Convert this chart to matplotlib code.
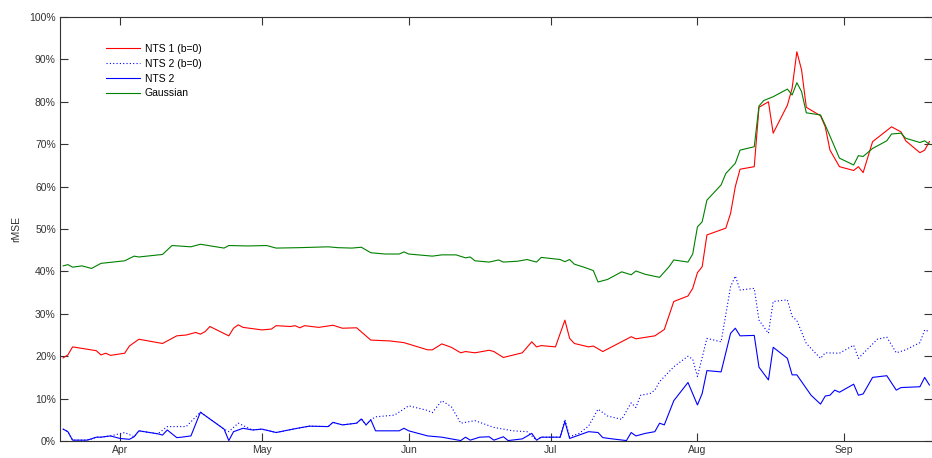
import matplotlib
matplotlib.use("Agg")
from matplotlib import pyplot as plt
import matplotlib.dates as mdates
from matplotlib.ticker import PercentFormatter, MultipleLocator
import pandas as pd

plt.rcParams['font.family'] = ['Liberation Sans', 'DejaVu Sans']

# Gaussian model
gauss_dates = ['2011-03-20', '2011-03-21', '2011-03-22', '2011-03-24', '2011-03-26', '2011-03-28',
               '2011-04-02', '2011-04-04', '2011-04-05', '2011-04-10', '2011-04-12', '2011-04-16',
               '2011-04-18', '2011-04-23', '2011-04-24', '2011-04-28', '2011-05-02', '2011-05-04',
               '2011-05-09', '2011-05-15', '2011-05-17', '2011-05-20', '2011-05-22', '2011-05-24',
               '2011-05-27', '2011-05-30', '2011-05-31', '2011-06-01', '2011-06-06', '2011-06-08',
               '2011-06-11', '2011-06-13', '2011-06-14', '2011-06-15', '2011-06-18', '2011-06-20',
               '2011-06-21', '2011-06-24', '2011-06-26', '2011-06-28', '2011-06-29', '2011-07-03',
               '2011-07-04', '2011-07-05', '2011-07-06', '2011-07-08', '2011-07-10', '2011-07-11',
               '2011-07-13', '2011-07-16', '2011-07-18', '2011-07-19', '2011-07-21', '2011-07-24',
               '2011-07-26', '2011-07-27', '2011-07-30', '2011-07-31', '2011-08-01', '2011-08-02',
               '2011-08-03', '2011-08-06', '2011-08-07', '2011-08-09', '2011-08-10', '2011-08-13',
               '2011-08-14', '2011-08-15', '2011-08-17', '2011-08-20', '2011-08-21', '2011-08-22',
               '2011-08-23', '2011-08-24', '2011-08-27', '2011-08-28', '2011-08-31', '2011-09-03',
               '2011-09-04', '2011-09-05', '2011-09-07', '2011-09-10', '2011-09-11', '2011-09-13',
               '2011-09-14', '2011-09-17', '2011-09-18', '2011-09-19']
gauss_vals = [41.3, 41.6, 41.0, 41.3, 40.7, 41.9,
              42.5, 43.6, 43.4, 44.0, 46.1, 45.8,
              46.4, 45.5, 46.1, 46.0, 46.1, 45.5,
              45.6, 45.8, 45.6, 45.5, 45.7, 44.4,
              44.1, 44.1, 44.6, 44.1, 43.6, 43.9,
              43.9, 43.2, 43.4, 42.5, 42.2, 42.7,
              42.2, 42.4, 42.8, 42.2, 43.3, 42.8,
              42.3, 42.8, 41.7, 41.0, 40.2, 37.5,
              38.1, 39.9, 39.2, 40.1, 39.3, 38.6,
              41.1, 42.7, 42.2, 44.1, 50.5, 51.7,
              56.8, 60.4, 63.1, 65.5, 68.6, 69.4,
              79.0, 80.3, 81.2, 83.0, 81.6, 84.5,
              82.4, 77.4, 76.9, 74.5, 66.7, 65.1,
              67.3, 67.1, 69.0, 70.8, 72.4, 72.6,
              71.4, 70.4, 70.8, 70.0]

# NTS 1 (b=0)
nts1_dates = ['2011-03-20', '2011-03-21', '2011-03-22', '2011-03-27', '2011-03-28', '2011-03-29',
              '2011-03-30', '2011-04-02', '2011-04-03', '2011-04-05', '2011-04-10', '2011-04-11',
              '2011-04-13', '2011-04-15', '2011-04-17', '2011-04-18', '2011-04-19', '2011-04-20',
              '2011-04-24', '2011-04-25', '2011-04-26', '2011-04-27', '2011-05-01', '2011-05-03',
              '2011-05-04', '2011-05-07', '2011-05-08', '2011-05-09', '2011-05-10', '2011-05-13',
              '2011-05-16', '2011-05-18', '2011-05-21', '2011-05-24', '2011-05-28', '2011-05-31',
              '2011-06-05', '2011-06-06', '2011-06-08', '2011-06-10', '2011-06-12', '2011-06-13',
              '2011-06-15', '2011-06-18', '2011-06-19', '2011-06-21', '2011-06-25', '2011-06-27',
              '2011-06-28', '2011-06-29', '2011-07-02', '2011-07-04', '2011-07-05', '2011-07-06',
              '2011-07-09', '2011-07-10', '2011-07-12', '2011-07-17', '2011-07-18', '2011-07-19',
              '2011-07-23', '2011-07-25', '2011-07-27', '2011-07-30', '2011-07-31', '2011-08-01',
              '2011-08-02', '2011-08-03', '2011-08-07', '2011-08-08', '2011-08-09', '2011-08-10',
              '2011-08-13', '2011-08-14', '2011-08-16', '2011-08-17', '2011-08-20', '2011-08-21',
              '2011-08-22', '2011-08-23', '2011-08-24', '2011-08-27', '2011-08-28', '2011-08-29',
              '2011-08-31', '2011-09-03', '2011-09-04', '2011-09-05', '2011-09-07', '2011-09-11',
              '2011-09-13', '2011-09-14', '2011-09-17', '2011-09-18', '2011-09-19']
nts1_vals = [19.6, 20.3, 22.2, 21.3, 20.3, 20.7,
             20.2, 20.7, 22.4, 24.0, 23.0, 23.6,
             24.8, 25.0, 25.6, 25.2, 25.8, 27.0,
             24.8, 26.6, 27.4, 26.8, 26.2, 26.4,
             27.2, 27.0, 27.2, 26.7, 27.2, 26.8,
             27.3, 26.6, 26.7, 23.8, 23.6, 23.2,
             21.5, 21.5, 22.9, 22.1, 20.8, 21.1,
             20.8, 21.4, 21.1, 19.7, 20.8, 23.4,
             22.2, 22.5, 22.2, 28.5, 24.2, 23.0,
             22.2, 22.4, 21.1, 24.0, 24.6, 24.1,
             24.8, 26.3, 32.9, 34.2, 36.0, 39.7,
             41.1, 48.6, 50.2, 53.7, 60.0, 64.1,
             64.7, 78.7, 80.0, 72.6, 79.2, 83.2,
             91.8, 87.5, 78.7, 76.7, 74.1, 68.6,
             64.7, 63.8, 64.7, 63.3, 70.6, 74.1,
             72.9, 70.8, 68.0, 68.6, 70.6]

# NTS 2 (b=0)
nts2b_dates = ['2011-03-20', '2011-03-21', '2011-03-22', '2011-03-25', '2011-03-26', '2011-03-27',
               '2011-03-28', '2011-03-30', '2011-04-02', '2011-04-04', '2011-04-05', '2011-04-09',
               '2011-04-11', '2011-04-15', '2011-04-18', '2011-04-23', '2011-04-24', '2011-04-26',
               '2011-04-29', '2011-05-01', '2011-05-04', '2011-05-08', '2011-05-11', '2011-05-15',
               '2011-05-16', '2011-05-18', '2011-05-21', '2011-05-22', '2011-05-23', '2011-05-24',
               '2011-05-25', '2011-05-29', '2011-06-01', '2011-06-05', '2011-06-06', '2011-06-08',
               '2011-06-10', '2011-06-12', '2011-06-15', '2011-06-19', '2011-06-21', '2011-06-23',
               '2011-06-26', '2011-06-28', '2011-06-29', '2011-07-03', '2011-07-04', '2011-07-05',
               '2011-07-07', '2011-07-09', '2011-07-11', '2011-07-13', '2011-07-16', '2011-07-18',
               '2011-07-19', '2011-07-20', '2011-07-22', '2011-07-23', '2011-07-24', '2011-07-27',
               '2011-07-30', '2011-07-31', '2011-08-01', '2011-08-03', '2011-08-06', '2011-08-08',
               '2011-08-09', '2011-08-10', '2011-08-13', '2011-08-14', '2011-08-16', '2011-08-17',
               '2011-08-20', '2011-08-21', '2011-08-22', '2011-08-24', '2011-08-27', '2011-08-28',
               '2011-08-31', '2011-09-03', '2011-09-04', '2011-09-08', '2011-09-10', '2011-09-12',
               '2011-09-14', '2011-09-17', '2011-09-18', '2011-09-19']
nts2b_vals = [2.8, 2.2, 0.2, 0.2, 0.5, 0.9,
              0.9, 1.2, 2.0, 1.0, 2.4, 1.7,
              3.4, 3.4, 6.8, 2.8, 2.2, 4.2,
              2.6, 2.8, 2.0, 2.9, 3.5, 3.4,
              4.4, 3.8, 4.2, 5.2, 3.8, 5.0,
              5.7, 6.1, 8.3, 7.2, 6.7, 9.5,
              8.1, 4.2, 4.8, 3.2, 2.8, 2.4,
              2.2, 0.2, 0.9, 0.9, 5.1, 1.0,
              1.8, 3.5, 7.5, 5.9, 5.1, 9.0,
              7.9, 10.8, 11.2, 12.0, 14.0, 17.5,
              20.0, 19.3, 15.2, 24.2, 23.4, 36.4,
              38.9, 35.6, 36.0, 28.5, 25.4, 32.9,
              33.3, 29.4, 28.4, 23.0, 19.5, 20.8,
              20.7, 22.6, 19.5, 24.0, 24.5, 20.8,
              21.5, 23.2, 26.2, 25.8]

# NTS 2
nts2_dates = ['2011-03-20', '2011-03-21', '2011-03-22', '2011-03-25', '2011-03-26', '2011-03-27',
              '2011-03-28', '2011-03-30', '2011-04-01', '2011-04-03', '2011-04-04', '2011-04-05',
              '2011-04-09', '2011-04-10', '2011-04-11', '2011-04-13', '2011-04-14', '2011-04-16',
              '2011-04-18', '2011-04-23', '2011-04-24', '2011-04-25', '2011-04-27', '2011-04-29',
              '2011-05-01', '2011-05-04', '2011-05-08', '2011-05-11', '2011-05-15', '2011-05-16',
              '2011-05-18', '2011-05-21', '2011-05-22', '2011-05-23', '2011-05-24', '2011-05-25',
              '2011-05-30', '2011-05-31', '2011-06-01', '2011-06-05', '2011-06-08', '2011-06-12',
              '2011-06-13', '2011-06-14', '2011-06-16', '2011-06-18', '2011-06-19', '2011-06-21',
              '2011-06-22', '2011-06-25', '2011-06-27', '2011-06-28', '2011-06-29', '2011-07-03',
              '2011-07-04', '2011-07-05', '2011-07-09', '2011-07-11', '2011-07-12', '2011-07-14',
              '2011-07-17', '2011-07-18', '2011-07-19', '2011-07-21', '2011-07-23', '2011-07-24',
              '2011-07-25', '2011-07-27', '2011-07-30', '2011-08-01', '2011-08-02', '2011-08-03',
              '2011-08-06', '2011-08-08', '2011-08-09', '2011-08-10', '2011-08-13', '2011-08-14',
              '2011-08-16', '2011-08-17', '2011-08-20', '2011-08-21', '2011-08-22', '2011-08-24',
              '2011-08-25', '2011-08-27', '2011-08-28', '2011-08-29', '2011-08-30', '2011-08-31',
              '2011-09-03', '2011-09-04', '2011-09-05', '2011-09-07', '2011-09-10', '2011-09-12',
              '2011-09-13', '2011-09-17', '2011-09-18', '2011-09-19']
nts2_vals = [2.8, 2.2, 0.2, 0.2, 0.5, 0.9,
             0.9, 1.2, 0.6, 0.4, 1.0, 2.4,
             1.7, 1.4, 2.6, 0.8, 0.9, 1.2,
             6.8, 2.8, 0.1, 2.2, 3.0, 2.6,
             2.8, 2.0, 2.9, 3.5, 3.4, 4.4,
             3.8, 4.2, 5.2, 3.8, 5.0, 2.4,
             2.4, 3.0, 2.4, 1.2, 0.9, 0.1,
             0.9, 0.2, 0.9, 1.0, 0.2, 1.0,
             0.1, 0.5, 1.8, 0.2, 0.9, 0.9,
             4.6, 0.6, 2.2, 2.0, 0.8, 0.5,
             0.1, 2.0, 1.2, 1.8, 2.2, 4.2,
             3.8, 9.5, 13.8, 8.5, 11.2, 16.6,
             16.3, 25.4, 26.6, 24.8, 24.9, 17.4,
             14.4, 22.1, 19.5, 15.6, 15.6, 12.4,
             10.8, 8.7, 10.6, 10.8, 12.0, 11.5,
             13.4, 10.8, 11.1, 15.0, 15.4, 12.0,
             12.6, 12.8, 15.0, 13.2]

series_labels = ['NTS 1 (b=0)', 'NTS 2 (b=0)', 'NTS 2', 'Gaussian']

fig = plt.figure(figsize=(9.32, 4.58), dpi=100)
ax = fig.add_axes([60/932, 17/458, 872/932, 424/458])

ax.plot(pd.to_datetime(nts1_dates), nts1_vals, color='#ff0000', lw=0.8, label=series_labels[0])
ax.plot(pd.to_datetime(nts2b_dates), nts2b_vals, color='#0000ff', lw=0.8,
        linestyle=(0, (1, 2)), label=series_labels[1])
ax.plot(pd.to_datetime(nts2_dates), nts2_vals, color='#0000ff', lw=0.8, label=series_labels[2])
ax.plot(pd.to_datetime(gauss_dates), gauss_vals, color='#008000', lw=0.8, label=series_labels[3])

x0 = mdates.date2num(pd.Timestamp('2011-03-19')) + 0.34
x1 = mdates.date2num(pd.Timestamp('2011-09-19')) + 0.55
ax.set_xlim(x0, x1)
ax.set_ylim(0, 100)

ax.xaxis.set_major_locator(mdates.MonthLocator())
ax.xaxis.set_major_formatter(mdates.DateFormatter('%b'))
ax.yaxis.set_major_locator(MultipleLocator(10))
ax.yaxis.set_major_formatter(PercentFormatter(decimals=0))

txt = '#333333'
ax.tick_params(direction='in', length=6, width=0.8, colors=txt, labelsize=7.5,
               top=True, right=True, pad=3)
for s in ax.spines.values():
    s.set_color(txt)
    s.set_linewidth(0.8)

ax.set_ylabel('rMSE', fontsize=7.5, color=txt)
ax.yaxis.set_label_coords(-39/872, 0.5)

ax.legend(loc='upper left', bbox_to_anchor=((106-60)/872, (441-44)/424), frameon=False,
          fontsize=7.5, borderpad=0, handlelength=3.3, handletextpad=0.4,
          labelspacing=0.46, borderaxespad=0)

fig.savefig('out.png', dpi=100)
